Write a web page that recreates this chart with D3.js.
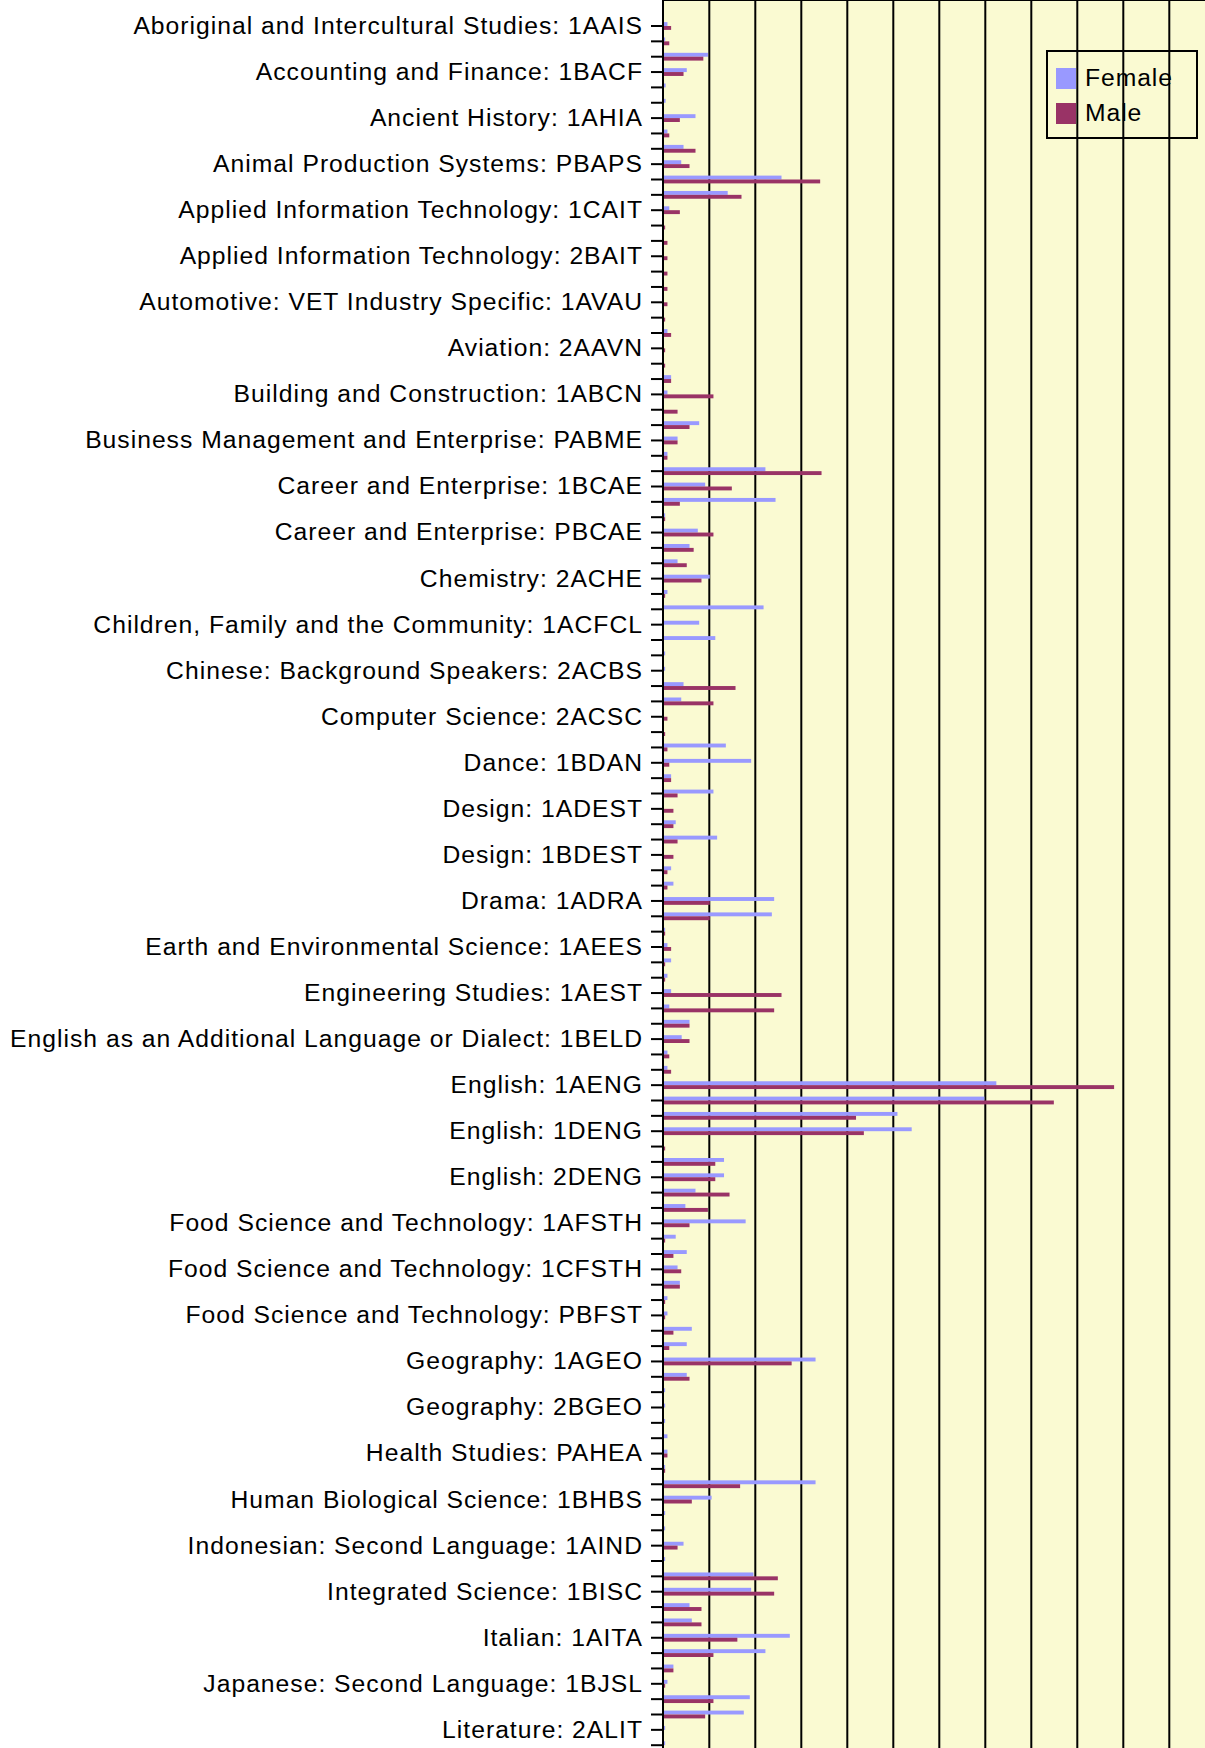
<!DOCTYPE html>
<html>
<head>
<meta charset="utf-8">
<script src="https://cdn.jsdelivr.net/npm/d3@7"></script>
<style>
  body { margin: 0; background: #fff; }
  .axis text { font: 24.7px "Liberation Sans", Arial, sans-serif; letter-spacing: 1px; fill: #000; }
  .axis line { stroke: #000; stroke-width: 2px; }
  .axis path { display: none; }
</style>
</head>
<body>
<svg id="chart" width="1205" height="1748"></svg>
<script>
// course units, in chart order (only every third one gets a label)
var courses = [
  "Aboriginal and Intercultural Studies: 1AAIS", "Aboriginal and Intercultural Studies: 1BAIS", "Accounting and Finance: 1AACF",
  "Accounting and Finance: 1BACF", "Accounting and Finance: 2AACF", "Accounting and Finance: 2BACF",
  "Ancient History: 1AHIA", "Ancient History: 1BHIA", "Animal Production Systems: PAAPS",
  "Animal Production Systems: PBAPS", "Applied Information Technology: 1AAIT", "Applied Information Technology: 1BAIT",
  "Applied Information Technology: 1CAIT", "Applied Information Technology: 1DAIT", "Applied Information Technology: 2AAIT",
  "Applied Information Technology: 2BAIT", "Applied Information Technology: 3AAIT", "Applied Information Technology: 3BAIT",
  "Automotive: VET Industry Specific: 1AVAU", "Automotive: VET Industry Specific: 1BVAU", "Aviation: 1AAVN",
  "Aviation: 2AAVN", "Aviation: 2BAVN", "Biological Sciences: 1ABLS",
  "Building and Construction: 1ABCN", "Building and Construction: 1BBCN", "Business Management and Enterprise: 1ABME",
  "Business Management and Enterprise: PABME", "Business Management and Enterprise: PBBME", "Career and Enterprise: 1ACAE",
  "Career and Enterprise: 1BCAE", "Career and Enterprise: 1CCAE", "Career and Enterprise: PACAE",
  "Career and Enterprise: PBCAE", "Chemistry: 1ACHE", "Chemistry: 1BCHE",
  "Chemistry: 2ACHE", "Chemistry: 2BCHE", "Children, Family and the Community: 1ACFC",
  "Children, Family and the Community: 1ACFCL", "Children, Family and the Community: 1BCFC", "Children, Family and the Community: 2ACFC",
  "Chinese: Background Speakers: 2ACBS", "Computer Science: 1ACSC", "Computer Science: 1BCSC",
  "Computer Science: 2ACSC", "Computer Science: 2BCSC", "Dance: 1ADAN",
  "Dance: 1BDAN", "Dance: 2ADAN", "Design: 1ADESG",
  "Design: 1ADEST", "Design: 1BDESG", "Design: 1BDESP",
  "Design: 1BDEST", "Design: 2ADESG", "Design: 2ADEST",
  "Drama: 1ADRA", "Drama: 1BDRA", "Drama: 2ADRA",
  "Earth and Environmental Science: 1AEES", "Earth and Environmental Science: 1BEES", "Economics: 2AECO",
  "Engineering Studies: 1AEST", "Engineering Studies: 1BEST", "English as an Additional Language or Dialect: 1AELD",
  "English as an Additional Language or Dialect: 1BELD", "English as an Additional Language or Dialect: 2AELD", "English as an Additional Language or Dialect: 2BELD",
  "English: 1AENG", "English: 1BENG", "English: 1CENG",
  "English: 1DENG", "English: 2AENG", "English: 2CENG",
  "English: 2DENG", "Food Science and Technology: 1AFST", "Food Science and Technology: 1AFSTC",
  "Food Science and Technology: 1AFSTH", "Food Science and Technology: 1BFST", "Food Science and Technology: 1BFSTH",
  "Food Science and Technology: 1CFSTH", "Food Science and Technology: 1DFSTH", "Food Science and Technology: PAFST",
  "Food Science and Technology: PBFST", "French: 1AFRE", "French: 1BFRE",
  "Geography: 1AGEO", "Geography: 1BGEO", "Geography: 2AGEO",
  "Geography: 2BGEO", "German: 1AGER", "Health Studies: 1AHEA",
  "Health Studies: PAHEA", "Health Studies: PBHEA", "Human Biological Science: 1AHBS",
  "Human Biological Science: 1BHBS", "Human Biological Science: 2AHBS", "Indonesian: Background Speakers: 2AIBS",
  "Indonesian: Second Language: 1AIND", "Indonesian: Second Language: 1BIND", "Integrated Science: 1AISC",
  "Integrated Science: 1BISC", "Integrated Science: 1CISC", "Integrated Science: 1DISC",
  "Italian: 1AITA", "Italian: 1BITA", "Japanese: Second Language: 1AJSL",
  "Japanese: Second Language: 1BJSL", "Literature: 1ALIT", "Literature: 1BLIT",
  "Literature: 2ALIT", "Literature: 2BLIT"
];

var series = ["Female", "Male"];

var female = [
  0.9, 0.4, 9.7, 5.1, 0.5, 0.5, 7.0, 0.9, 4.4, 3.9, 25.7, 14.0,
  1.3, 0, 0, 0, 0, 0, 0, 0, 0.9, 0, 0, 1.7,
  0.9, 0, 7.8, 3.1, 0.9, 22.2, 9.1, 24.4, 0.4, 7.5, 5.7, 3.1,
  10.1, 0.9, 21.8, 7.8, 11.3, 0.4, 0.4, 4.4, 3.9, 0, 0, 13.6,
  19.1, 1.7, 10.9, 0, 2.7, 11.7, 0, 1.7, 2.2, 24.1, 23.6, 0.4,
  0.9, 1.7, 0.9, 1.7, 1.3, 5.7, 4.0, 0.9, 0.9, 72.4, 69.8, 50.9,
  54.0, 0, 13.2, 13.2, 7.0, 4.8, 17.9, 2.7, 5.1, 3.1, 3.6, 0.9,
  0.9, 6.2, 5.1, 33.1, 5.1, 0.4, 0.4, 0.4, 0.9, 0.9, 0.4, 33.1,
  10.5, 0.4, 0.4, 4.4, 0.4, 19.6, 19.1, 5.7, 6.2, 27.5, 22.2, 2.2,
  0.9, 18.8, 17.5, 0.4, 0.4
];

var male = [
  1.7, 1.3, 8.7, 4.4, 0, 0, 3.6, 1.3, 7.0, 5.7, 34.1, 17.0,
  3.6, 0.4, 0.9, 0.9, 0.9, 0.9, 0.9, 0.4, 1.7, 0.4, 0.4, 1.7,
  10.9, 3.1, 5.7, 3.1, 0.9, 34.4, 14.9, 3.6, 0.4, 10.9, 6.6, 5.1,
  8.3, 0.4, 0, 0, 0, 0, 0, 15.7, 10.9, 0.9, 0.4, 0.9,
  1.3, 1.7, 3.1, 2.2, 2.2, 3.1, 2.2, 0.9, 0.9, 10.1, 10.1, 0.4,
  1.7, 0.4, 0.4, 25.7, 24.1, 5.7, 5.7, 1.3, 1.7, 98.0, 84.9, 41.9,
  43.6, 0.4, 11.3, 11.3, 14.4, 9.7, 5.7, 0.4, 2.2, 3.9, 3.6, 0.4,
  0.4, 2.2, 1.3, 27.9, 5.7, 0, 0, 0, 0, 0.9, 0.4, 16.7,
  6.2, 0, 0, 3.1, 0, 24.9, 24.1, 8.3, 8.3, 16.1, 10.9, 2.2,
  0.4, 10.9, 9.1, 0, 0
];

var colors = {"Female": "#9999ff", "Male": "#993366"};

// plot area (runs off the right and bottom of the page)
var svg = d3.select("#chart"),
    left = 663, top = 11,
    step = 15.35,
    firstCenter = 26,
    unit = 4.6;

var x = d3.scaleLinear()
    .domain([0, 130])
    .range([left + 0.3, left + 0.3 + 130 * unit]);

var y = d3.scaleBand()
    .domain(courses)
    .range([firstCenter - step / 2, firstCenter - step / 2 + courses.length * step])
    .paddingInner(0)
    .paddingOuter(0);

var ySub = d3.scaleBand()
    .domain(series)
    .range([0, y.bandwidth()])
    .paddingInner(0)
    .paddingOuter(0.97);

var rows = courses.map(function(c, i) {
  return {course: c, values: [{key: "Female", value: female[i]}, {key: "Male", value: male[i]}]};
});

// background
svg.append("rect")
    .attr("x", left)
    .attr("y", top)
    .attr("width", 700)
    .attr("height", 1800)
    .attr("fill", "#fafad2");

// vertical grid
svg.append("g")
    .selectAll("line")
    .data(x.ticks(13).filter(function(d) { return d > 0; }))
    .enter().append("line")
    .attr("x1", function(d) { return x(d); })
    .attr("x2", function(d) { return x(d); })
    .attr("y1", top)
    .attr("y2", 1800)
    .attr("stroke", "#000")
    .attr("stroke-width", 2);

// bars
var row = svg.append("g")
    .selectAll("g")
    .data(rows)
    .enter().append("g")
    .attr("transform", function(d) { return "translate(0," + y(d.course) + ")"; });

row.selectAll("rect")
    .data(function(d) { return d.values; })
    .enter().append("rect")
    .attr("x", x(0))
    .attr("y", function(d) { return ySub(d.key); })
    .attr("width", function(d) { return x(d.value) - x(0); })
    .attr("height", ySub.bandwidth())
    .attr("fill", function(d) { return colors[d.key]; });

// frame: top edge and value axis line
svg.append("line")
    .attr("x1", left).attr("x2", 1205)
    .attr("y1", top).attr("y2", top)
    .attr("stroke", "#000").attr("stroke-width", 2);
svg.append("line")
    .attr("x1", left).attr("x2", left)
    .attr("y1", top).attr("y2", 1800)
    .attr("stroke", "#000").attr("stroke-width", 2);

// category axis, label on every third tick
svg.append("g")
    .attr("class", "axis")
    .attr("transform", "translate(" + left + ",0)")
    .call(d3.axisLeft(y)
      .tickSizeInner(12)
      .tickSizeOuter(0)
      .tickPadding(8)
      .tickFormat(function(d, i) { return i % 3 === 0 ? d : ""; }));

// legend
var legend = svg.append("g")
    .attr("transform", "translate(1047,51)");

legend.append("rect")
    .attr("width", 150)
    .attr("height", 87)
    .attr("fill", "none")
    .attr("stroke", "#000")
    .attr("stroke-width", 2);

var item = legend.selectAll(".item")
    .data(series)
    .enter().append("g")
    .attr("class", "item")
    .attr("transform", function(d, i) { return "translate(9," + (17 + i * 35) + ")"; });

item.append("rect")
    .attr("width", 20)
    .attr("height", 21)
    .attr("fill", function(d) { return colors[d]; });

item.append("text")
    .attr("x", 29)
    .attr("y", 18)
    .style("font", "24.7px 'Liberation Sans', Arial, sans-serif")
    .style("letter-spacing", "0.93px")
    .text(function(d) { return d; });
</script>
</body>
</html>
